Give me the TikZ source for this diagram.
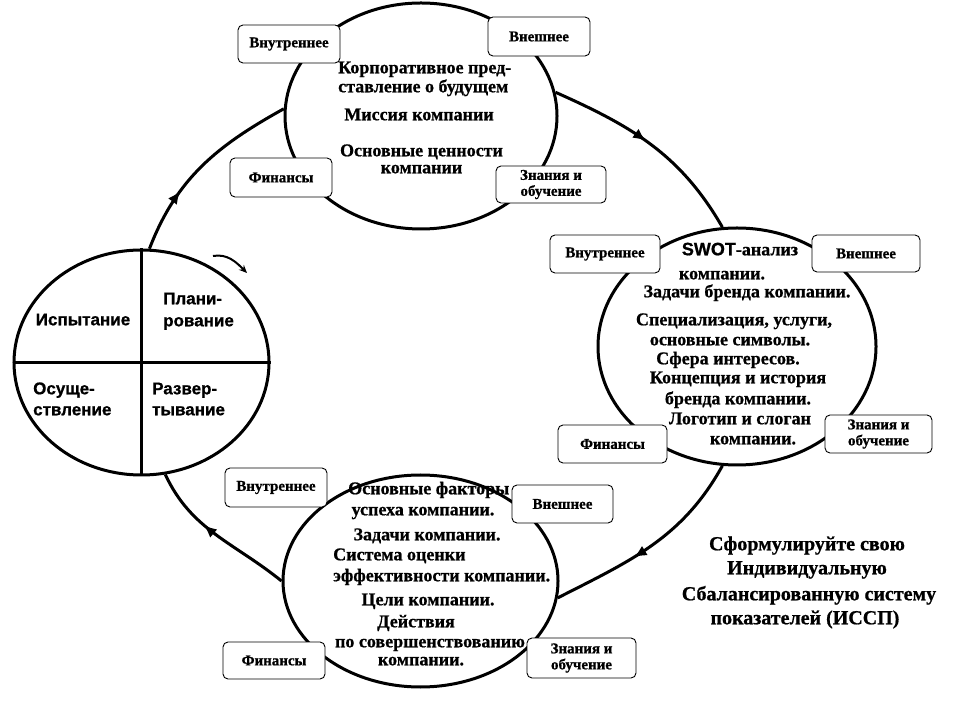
\documentclass[tikz,border=0pt]{standalone}
\usepackage{fontspec}
\setmainfont{Liberation Serif}[BoldFeatures={FakeBold=0.8}]
\newfontfamily\sansf{Liberation Sans}[BoldFeatures={FakeBold=0.8}]
\usetikzlibrary{shapes.geometric,arrows.meta,decorations.markings}
\begin{document}
\begin{tikzpicture}[x=1pt,y=1pt,
  phase/.style={ellipse, draw, line width=3pt, fill=white, inner sep=0pt},
  lbl/.style={draw, rounded corners=5pt, fill=white, line width=0.9pt, inner sep=0pt,
    font=\fontsize{15}{16}\selectfont\bfseries, align=center},
  txt/.style={inner sep=0pt, font=\fontsize{18}{18}\selectfont\bfseries},
  stxt/.style={inner sep=0pt, font=\sansf\fontsize{17}{17}\selectfont\bfseries},
  bigtxt/.style={inner sep=0pt, font=\fontsize{20}{20}\selectfont\bfseries},
  cyc/.style={line width=3pt, postaction={decorate},
    decoration={markings, mark=at position #1 with {\arrow{Latex[length=13pt,width=11pt]}}}},
]
\useasboundingbox (0,0) rectangle (960,720);

% phase ellipses
\node[phase, minimum width=272pt, minimum height=226pt] (T) at (421,604) {};
\node[phase, minimum width=278pt, minimum height=237pt] (R) at (737,373.5) {};
\node[phase, minimum width=275pt, minimum height=212pt] (B) at (420.5,139) {};
\node[phase, minimum width=255pt, minimum height=225pt] (L) at (141.5,357.5) {};
\draw[line width=2.5pt] (L.north) -- (L.south);
\draw[line width=2.5pt] (L.west) -- (L.east);

% cycle connectors
\draw[cyc=0.47] (T.10) to[out=-24, in=120] (R.97);
\draw[cyc=0.6] (R.263) to[out=241, in=27] (B.353);
\draw[cyc=0.6] (B.180) to[out=141, in=-65] (L.282);
\draw[cyc=0.33] (L.86) to[out=69, in=209] (T.177);

% small rotation arrow
\coordinate (sa) at (213,464);
\coordinate (sb) at (247,447);
\draw[line width=2pt, -{Stealth[length=8pt,width=7pt]}] (sa) to[out=10, in=135] (sb);

% left circle texts
\node[stxt, anchor=mid] (l1) at (83,397) {Испытание};
\node[stxt, anchor=mid west] (l2) at (163,418) {Плани-};
\node[stxt, anchor=mid west] (l3) at (163,396) {рование};
\node[stxt, anchor=mid west] (l4) at (33,328) {Осуще-};
\node[stxt, anchor=mid west] (l5) at (33,307) {ствление};
\node[stxt, anchor=mid west] (l6) at (152,328) {Развер-};
\node[stxt, anchor=mid west] (l7) at (152,307) {тывание};

% top ellipse texts
\node[txt, anchor=mid west] (t1) at (338,649) {Корпоративное пред-};
\node[txt, anchor=mid west] (t2) at (338,630) {ставление о будущем};
\node[txt, anchor=mid] (t3) at (419,602) {Миссия компании};
\node[txt, anchor=mid] (t4) at (421.5,566) {Основные ценности};
\node[txt, anchor=mid] (t5) at (421.5,549) {компании};

% right ellipse texts
\node[txt, anchor=mid] (r1) at (740,467) {{\sansf SWOT}-анализ};
\node[txt, anchor=mid] (r2) at (722,443) {компании.};
\node[txt, anchor=mid] (r3) at (747,425) {Задачи бренда компании.};
\node[txt, anchor=mid] (r4) at (734,397) {Специализация, услуги,};
\node[txt, anchor=mid] (r5) at (730,377) {основные символы.};
\node[txt, anchor=mid] (r6) at (728,358) {Сфера интересов.};
\node[txt, anchor=mid] (r7) at (738,339) {Концепция и история};
\node[txt, anchor=mid] (r8) at (738,318) {бренда компании.};
\node[txt, anchor=mid] (r9) at (740,298) {Логотип и слоган};
\node[txt, anchor=mid] (r10) at (753,278) {компании.};

% bottom ellipse texts
\node[txt, anchor=mid west] (b1) at (348,228) {Основные факторы};
\node[txt, anchor=mid] (b2) at (423,207) {успеха компании.};
\node[txt, anchor=mid] (b3) at (427,182) {Задачи компании.};
\node[txt, anchor=mid west] (b4) at (333,162) {Система оценки};
\node[txt, anchor=mid west] (b5) at (333,141) {эффективности компании.};
\node[txt, anchor=mid] (b6) at (428,117) {Цели компании.};
\node[txt, anchor=mid] (b7) at (416,95) {Действия};
\node[txt, anchor=mid] (b8) at (430,75) {по совершенствованию};
\node[txt, anchor=mid] (b9) at (421,57) {компании.};

% perspective boxes
\node[lbl, minimum width=102pt, minimum height=38pt] (tI) at (289,676) {Внутреннее};
\node[lbl, minimum width=102pt, minimum height=39pt] (tE) at (539,683.5) {Внешнее};
\node[lbl, minimum width=102pt, minimum height=39pt] (tF) at (281,542.5) {Финансы};
\node[lbl, minimum width=110pt, minimum height=37pt] (tZ) at (551,535.5) {Знания и\\обучение};

\node[lbl, minimum width=110pt, minimum height=38pt] (rI) at (605,466) {Внутреннее};
\node[lbl, minimum width=108pt, minimum height=37pt] (rE) at (866,466.5) {Внешнее};
\node[lbl, minimum width=109pt, minimum height=38pt] (rF) at (612.5,276) {Финансы};
\node[lbl, minimum width=107pt, minimum height=38pt] (rZ) at (878.5,286) {Знания и\\обучение};

\node[lbl, minimum width=102pt, minimum height=39pt] (bI) at (276,232.5) {Внутреннее};
\node[lbl, minimum width=101pt, minimum height=38pt] (bE) at (562.5,216) {Внешнее};
\node[lbl, minimum width=102pt, minimum height=37pt] (bF) at (274,59.5) {Финансы};
\node[lbl, minimum width=109pt, minimum height=40pt] (bZ) at (581.5,62) {Знания и\\обучение};

% call to action
\node[bigtxt, anchor=mid] (s1) at (807,172) {Сформулируйте свою};
\node[bigtxt, anchor=mid] (s2) at (807,148) {Индивидуальную};
\node[bigtxt, anchor=mid] (s3) at (809,122) {Сбалансированную систему};
\node[bigtxt, anchor=mid] (s4) at (805,98) {показателей (ИССП)};
\end{tikzpicture}
\end{document}
